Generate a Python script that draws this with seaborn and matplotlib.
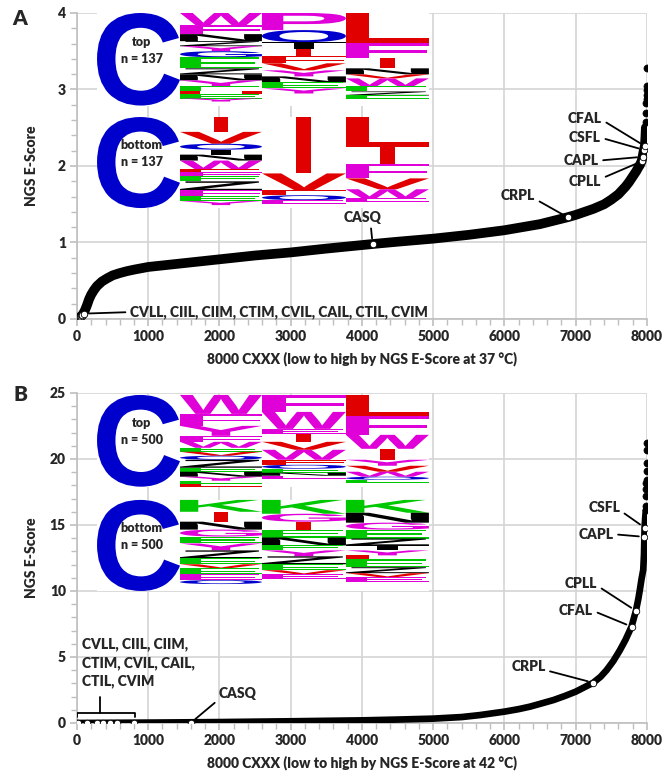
import numpy as np
import pandas as pd
import seaborn as sns
import matplotlib.pyplot as plt
from matplotlib.textpath import TextPath
from matplotlib.patches import PathPatch, Rectangle
from matplotlib.font_manager import FontProperties
from matplotlib.transforms import Affine2D
from matplotlib.ticker import MultipleLocator

sns.set_theme(style='white')
plt.rcParams['font.family'] = ['Lato', 'DejaVu Sans']
plt.rcParams['font.weight'] = 'heavy'
WT = 'heavy'

# ---- curve values (rank, NGS E-score) ----
curveA_rank = [0, 20, 50, 80, 110, 140, 170, 200, 240, 280, 350, 420, 500, 600, 700, 800, 1000,
               1250, 1500, 2000, 2500, 3000, 3500, 4150, 4500, 5000, 5500, 6000, 6500, 6887,
               7000, 7250, 7400, 7500, 7600, 7700, 7750, 7800, 7850, 7880, 7900, 7925, 7940,
               7958, 7972, 7980, 7986]
curveA_score = [0.0, 0.01, 0.03, 0.06, 0.11, 0.18, 0.26, 0.32, 0.38, 0.43, 0.49, 0.53, 0.57,
                0.6, 0.625, 0.645, 0.68, 0.705, 0.73, 0.78, 0.83, 0.87, 0.92, 0.98, 1.01, 1.05,
                1.1, 1.16, 1.24, 1.33, 1.36, 1.44, 1.5, 1.56, 1.63, 1.73, 1.79, 1.86, 1.93,
                1.98, 2.01, 2.06, 2.12, 2.21, 2.26, 2.38, 2.5]
tailA_rank = [7990, 7992, 7994, 7995, 7996, 7997, 7998, 7999]
tailA_score = [2.58, 2.69, 2.82, 2.88, 2.93, 2.99, 3.04, 3.28]

curveB_rank = [0, 1000, 2000, 3000, 4000, 4500, 5000, 5400, 5656, 6000, 6200, 6360, 6500, 6690,
               6850, 7000, 7120, 7247, 7350, 7434, 7530, 7620, 7700, 7785, 7846, 7880, 7902,
               7925, 7949, 7960, 7965, 7968, 7976, 7985]
curveB_score = [0.0, 0.03, 0.07, 0.13, 0.2, 0.26, 0.33, 0.45, 0.6, 0.86, 1.05, 1.24, 1.45, 1.74,
                2.05, 2.37, 2.7, 3.05, 3.5, 4.0, 4.7, 5.5, 6.3, 7.3, 8.5, 9.4, 10.1, 10.9, 11.6,
                12.8, 14.1, 14.8, 15.5, 16.1]
tailB_rank = [7988, 7990, 7992, 7993, 7994, 7995, 7996, 7997, 7998, 7999]
tailB_score = [16.1, 16.4, 17.2, 17.7, 18.2, 18.4, 19.1, 19.7, 20.7, 21.2]

# highlighted CXXX motifs
low_names = ['CVLL', 'CIIL', 'CIIM', 'CTIM', 'CVIL', 'CAIL', 'CTIL', 'CVIM']
lowA_rank = [15, 25, 35, 45, 55, 65, 75, 95]
lowA_score = [0.0, 0.01, 0.01, 0.02, 0.03, 0.04, 0.05, 0.07]
lowB_rank = [0, 10, 145, 276, 369, 463, 566, 804]
lowB_score = [0, 0, 0, 0, 0, 0, 0, 0]

hi_names = ['CASQ', 'CRPL', 'CPLL', 'CAPL', 'CSFL', 'CFAL']
hiA_rank = [4150, 6887, 7925, 7940, 7958, 7972]
hiA_score = [0.98, 1.33, 2.06, 2.12, 2.21, 2.26]
hiB_rank = [1600, 7247, 7846, 7965, 7968, 7785]
hiB_score = [0.02, 3.05, 8.5, 14.1, 14.8, 7.3]

# sequence logo stacks (letter, colour key, height in px of a ~92 px stack), top to bottom
COL = {'m': '#e000d8', 'r': '#e00000', 'b': '#0000cc', 'g': '#00c800', 'k': '#000000'}
logoA_top = [
    [('W', 'm', 12), ('F', 'm', 9), ('N', 'k', 7), ('Z', 'k', 5), ('Y', 'm', 5), ('G', 'b', 6),
     ('E', 'g', 11), ('Z', 'k', 6), ('N', 'k', 6), ('Y', 'm', 6), ('E', 'g', 5), ('H', 'r', 3),
     ('E', 'g', 4), ('Y', 'm', 3)],
    [('P', 'm', 17), ('O', 'b', 12), ('T', 'k', 7), ('I', 'r', 7), ('F', 'r', 7), ('V', 'r', 7),
     ('Y', 'm', 6), ('N', 'k', 6), ('E', 'g', 6), ('Y', 'm', 5)],
    [('L', 'r', 30), ('F', 'm', 15), ('I', 'r', 10), ('N', 'k', 6), ('V', 'r', 4), ('W', 'm', 8),
     ('E', 'g', 5), ('Z', 'k', 4), ('E', 'g', 3)],
]
logoA_bot = [
    [('I', 'r', 15), ('V', 'r', 12), ('O', 'b', 6), ('T', 'k', 5), ('N', 'k', 6), ('W', 'm', 9),
     ('E', 'r', 3), ('F', 'm', 4), ('E', 'g', 5), ('Z', 'k', 9), ('F', 'm', 6), ('E', 'g', 5),
     ('Y', 'm', 4)],
    [('I', 'r', 57), ('V', 'r', 17), ('F', 'r', 5), ('O', 'b', 5), ('E', 'm', 4)],
    [('L', 'r', 30), ('I', 'r', 17), ('F', 'm', 15), ('V', 'r', 11), ('W', 'm', 9), ('E', 'm', 4)],
]
logoB_top = [
    [('W', 'm', 19), ('F', 'm', 12), ('Y', 'm', 10), ('F', 'm', 6), ('W', 'm', 6), ('E', 'g', 4),
     ('V', 'r', 4), ('O', 'b', 4), ('Z', 'k', 8), ('E', 'g', 4), ('N', 'k', 5), ('Y', 'm', 4),
     ('E', 'g', 3), ('E', 'r', 3)],
    [('F', 'm', 17), ('W', 'm', 17), ('E', 'm', 5), ('I', 'r', 8), ('V', 'r', 8), ('W', 'm', 10),
     ('F', 'r', 5), ('O', 'b', 4), ('E', 'g', 4), ('N', 'k', 3), ('E', 'm', 3)],
    [('L', 'r', 21), ('F', 'm', 19), ('W', 'm', 14), ('I', 'r', 11), ('Y', 'm', 6), ('V', 'r', 6),
     ('W', 'm', 5), ('O', 'b', 3), ('E', 'g', 3)],
]
logoB_bot = [
    [('K', 'g', 12), ('I', 'r', 10), ('N', 'k', 8), ('G', 'm', 7), ('E', 'g', 7), ('Y', 'm', 7),
     ('Z', 'k', 8), ('E', 'g', 6), ('V', 'r', 4), ('E', 'g', 6), ('E', 'm', 6), ('O', 'b', 4)],
    [('K', 'g', 14), ('G', 'm', 8), ('I', 'r', 8), ('E', 'g', 8), ('N', 'k', 8), ('E', 'g', 5),
     ('Y', 'm', 6), ('Z', 'k', 8), ('E', 'g', 6), ('V', 'r', 4), ('E', 'm', 5)],
    [('K', 'g', 13), ('N', 'k', 10), ('G', 'm', 7), ('E', 'g', 9), ('Z', 'k', 7), ('T', 'k', 5),
     ('Y', 'm', 5), ('L', 'r', 4), ('E', 'g', 8), ('Z', 'k', 6), ('V', 'r', 4), ('E', 'm', 5)],
]

FP = FontProperties(family='Liberation Sans', weight='bold')


def draw_letter(ax, ch, x0, y0, w, h, color):
    tp = TextPath((0, 0), ch, size=1, prop=FP)
    bb = tp.get_extents()
    if ch == 'I':
        # an I keeps its narrow stem inside the column
        x0, w = x0 + 0.41 * w, 0.18 * w
    tr = Affine2D().translate(-bb.x0, -bb.y0).scale(w / bb.width, h / bb.height).translate(x0, y0)
    ax.add_patch(PathPatch(tr.transform_path(tp), fc=color, ec='none', zorder=4))


def draw_logo(ax, y_top, y_bot, stacks, label):
    edges = [281, 1446, 2596, 3775, 4940]
    ax.add_patch(Rectangle((edges[0], y_bot), edges[-1] - edges[0], y_top - y_bot,
                           fc='white', ec='none', zorder=3))
    draw_letter(ax, 'C', edges[0], y_bot, edges[1] - edges[0], y_top - y_bot, COL['b'])
    unit = (y_top - y_bot) / 92.0
    for i, stack in enumerate(stacks):
        y = y_top
        for ch, c, hpx in stack:
            h = hpx * unit
            draw_letter(ax, ch, edges[i + 1], y - h, edges[i + 2] - edges[i + 1], h, COL[c])
            y -= h
    ax.text(910, (y_top + y_bot) / 2 + 0.1 * (y_top - y_bot), label, ha='center', va='center',
            fontsize=9, fontweight=WT, linespacing=1.5, zorder=6)


def style_axis(ax, ymax, ymajor, yminor, temp):
    ax.set_xlim(0, 8000)
    ax.set_ylim(0, ymax)
    ax.xaxis.set_major_locator(MultipleLocator(1000))
    ax.xaxis.set_minor_locator(MultipleLocator(200))
    ax.yaxis.set_major_locator(MultipleLocator(ymajor))
    ax.yaxis.set_minor_locator(MultipleLocator(yminor))
    ax.grid(True, which='major', color='#d4d4d4', lw=1.2, zorder=0)
    ax.set_axisbelow(True)
    for s in ['top', 'right']:
        ax.spines[s].set_visible(False)
    for s in ['left', 'bottom']:
        ax.spines[s].set_color('#bfbfbf')
        ax.spines[s].set_linewidth(1.2)
    ax.tick_params(which='both', direction='out', color='#bfbfbf', left=True, bottom=True,
                   labelsize=10, pad=3)
    ax.tick_params(which='major', length=5, width=1.2)
    ax.tick_params(which='minor', length=4, width=1)
    for t in ax.get_xticklabels() + ax.get_yticklabels():
        t.set_fontweight(WT)
    ax.set_xlabel('8000 CXXX (low to high by NGS E-Score at %d \u00b0C)' % temp,
                  fontsize=10, fontweight=WT, labelpad=6)
    ax.set_ylabel('NGS E-Score', fontsize=10, fontweight=WT)
    ax.yaxis.set_label_coords(-0.068, 0.5)


def draw_curve(ax, rank, score, trank, tscore, lw):
    df = pd.DataFrame({'rank': rank, 'score': score})
    sns.lineplot(data=df, x='rank', y='score', ax=ax, color='black', lw=lw, estimator=None,
                 solid_capstyle='round', solid_joinstyle='round', zorder=5)
    sns.scatterplot(x=trank, y=tscore, ax=ax, color='black', s=26, edgecolor='black',
                    linewidth=0.5, zorder=6)


def white_points(ax, rank, score):
    sns.scatterplot(x=rank, y=score, ax=ax, color='white', s=22, edgecolor='black',
                    linewidth=0.6, zorder=7)


def label(ax, name, xy, xytext, relpos, ha='center'):
    ax.annotate(name, xy=xy, xytext=xytext, ha=ha, va='center', fontsize=10,
                fontweight=WT, zorder=8,
                arrowprops=dict(arrowstyle='-', color='black', lw=1.3, relpos=relpos,
                                shrinkA=1, shrinkB=4))


fig = plt.figure(figsize=(6.72, 7.78), dpi=100)
axA = fig.add_axes([0.1146, 0.590, 0.848, 0.3933])
axB = fig.add_axes([0.1146, 0.0707, 0.848, 0.4242])

# ---------- panel A ----------
style_axis(axA, 4, 1, 0.2, 37)
draw_logo(axA, 4.0, 2.79, logoA_top, 'top\nn = 137')
draw_logo(axA, 2.64, 1.45, logoA_bot, 'bottom\nn = 137')
draw_curve(axA, curveA_rank, curveA_score, tailA_rank, tailA_score, 7)
white_points(axA, lowA_rank, lowA_score)
white_points(axA, hiA_rank, hiA_score)
hA = dict(zip(hi_names, zip(hiA_rank, hiA_score)))
label(axA, ', '.join(low_names), (lowA_rank[-1], lowA_score[-1]), (745, 0.09), (0, 0.5), ha='left')
label(axA, 'CASQ', hA['CASQ'], (4015, 1.33), (0.7, 0.0))
label(axA, 'CRPL', hA['CRPL'], (6190, 1.62), (1.0, 0.2))
label(axA, 'CFAL', hA['CFAL'], (7130, 2.62), (1.0, 0.4))
label(axA, 'CSFL', hA['CSFL'], (7130, 2.37), (1.0, 0.5))
label(axA, 'CAPL', hA['CAPL'], (7075, 2.07), (1.0, 0.5))
label(axA, 'CPLL', hA['CPLL'], (7130, 1.80), (1.0, 0.7))

# ---------- panel B ----------
style_axis(axB, 25, 5, 1, 42)
draw_logo(axB, 24.85, 17.9, logoB_top, 'top\nn = 500')
draw_logo(axB, 16.9, 10.0, logoB_bot, 'bottom\nn = 500')
draw_curve(axB, curveB_rank, curveB_score, tailB_rank, tailB_score, 4.8)
white_points(axB, lowB_rank, lowB_score)
white_points(axB, hiB_rank, hiB_score)
hB = dict(zip(hi_names, zip(hiB_rank, hiB_score)))
label(axB, 'CASQ', hB['CASQ'], (2260, 2.2), (0.0, 0.1))
label(axB, 'CRPL', hB['CRPL'], (6335, 4.3), (1.0, 0.2))
label(axB, 'CFAL', hB['CFAL'], (7005, 8.5), (1.0, 0.5))
label(axB, 'CPLL', hB['CPLL'], (7075, 10.6), (1.0, 0.3))
label(axB, 'CAPL', hB['CAPL'], (7285, 14.3), (1.0, 0.5))
label(axB, 'CSFL', hB['CSFL'], (7400, 16.3), (1.0, 0.3))
axB.text(65, 4.55, 'CVLL, CIIL, CIIM,\nCTIM, CVIL, CAIL,\nCTIL, CVIM', ha='left', va='center',
         fontsize=10, fontweight=WT, linespacing=1.45, zorder=8)
bx0, bx1 = lowB_rank[0], lowB_rank[-1] + 10
axB.plot([bx0, bx0, bx1, bx1], [0.45, 0.75, 0.75, 0.45], color='black', lw=1.3, zorder=8)
axB.plot([325, 325], [0.75, 2.0], color='black', lw=1.3, zorder=8)

fig.text(0.03, 0.988, 'A', fontsize=15, fontweight=WT, va='top', ha='center')
fig.text(0.03, 0.505, 'B', fontsize=15, fontweight=WT, va='top', ha='center')

fig.savefig('out.png', dpi=100)
